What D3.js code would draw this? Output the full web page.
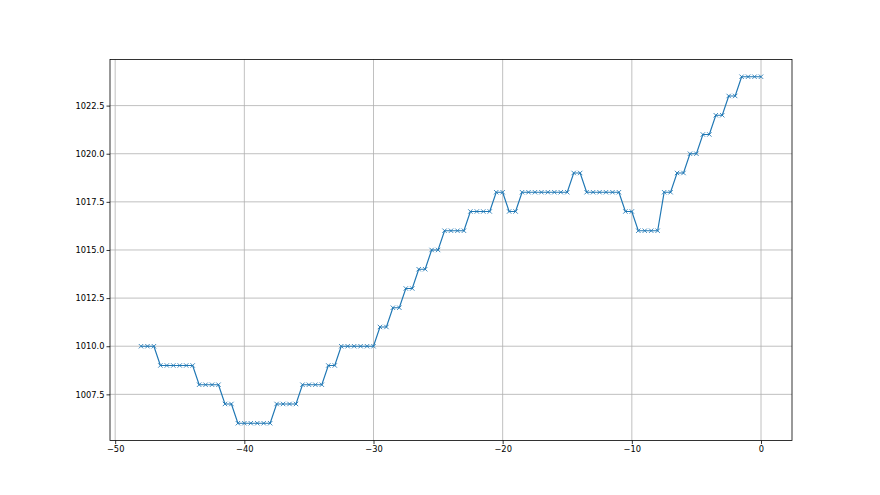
<!DOCTYPE html>
<html><head><meta charset="utf-8">
<script src="https://cdn.jsdelivr.net/npm/d3@7"></script>
<style>body{margin:0;background:#fff;} svg{display:block;}</style>
</head><body>
<svg id="c" width="880" height="495"></svg>
<script>
// Data: x from -48 to 0 every 0.5, pressure values (runs of equal values)
const xStart = -48, xStep = 0.5;
const runValues = [1010,1009,1008,1007,1006,1007,1008,1009,1010,1011,1012,1013,1014,1015,1016,1017,1018,1017,1018,1019,1018,1017,1016,1018,1019,1020,1021,1022,1023,1024];
const runLengths = [3,6,4,2,6,4,4,2,6,2,2,2,2,2,4,4,2,2,8,2,6,2,4,2,2,2,2,2,2,4];
const xTicks = [-50,-40,-30,-20,-10,0];
const yTicks = [1007.5,1010.0,1012.5,1015.0,1017.5,1020.0,1022.5];

const yValues = [];
runValues.forEach((v,i)=>{ for(let k=0;k<runLengths[i];k++) yValues.push(v); });
const data = yValues.map((y,i)=>({x: xStart + i*xStep, y}));

const W=880,H=495, L=110, R=792, T=59.4, B=440.55;
const svg = d3.select('#c');
const xmin=d3.min(data,d=>d.x), xmax=d3.max(data,d=>d.x);
const ymin=d3.min(data,d=>d.y), ymax=d3.max(data,d=>d.y);
const xm=(xmax-xmin)*0.05, ym=(ymax-ymin)*0.05;
const x = d3.scaleLinear().domain([xmin-xm,xmax+xm]).range([L,R]);
const y = d3.scaleLinear().domain([ymin-ym,ymax+ym]).range([B,T]);

// grid
const g = svg.append('g');
g.selectAll('.gx').data(xTicks).join('line')
 .attr('x1',d=>x(d)).attr('x2',d=>x(d)).attr('y1',T).attr('y2',B)
 .attr('stroke','#b0b0b0').attr('stroke-width',0.8);
g.selectAll('.gy').data(yTicks).join('line')
 .attr('x1',L).attr('x2',R).attr('y1',d=>y(d)).attr('y2',d=>y(d))
 .attr('stroke','#b0b0b0').attr('stroke-width',0.8);

// line
svg.append('path').datum(data)
 .attr('fill','none').attr('stroke','#1f77b4').attr('stroke-width',1.2)
 .attr('d', d3.line().x(d=>x(d.x)).y(d=>y(d.y)));

// x markers
const s=2.2;
svg.append('g').selectAll('path').data(data).join('path')
 .attr('d', d=>{const cx=x(d.x), cy=y(d.y); return `M${cx-s},${cy-s}L${cx+s},${cy+s}M${cx-s},${cy+s}L${cx+s},${cy-s}`;})
 .attr('stroke','#1f77b4').attr('stroke-width',1).attr('stroke-opacity',0.85).attr('fill','none');

// axes
const fmtY = d3.format('.1f');
const xa = svg.append('g').attr('transform',`translate(0,${B})`)
 .call(d3.axisBottom(x).tickValues(xTicks).tickSize(3.5).tickPadding(2).tickFormat(d=>d3.format('d')(d).replace('-','\u2212')));
const ya = svg.append('g').attr('transform',`translate(${L},0)`)
 .call(d3.axisLeft(y).tickValues(yTicks).tickSize(3.5).tickPadding(2).tickFormat(fmtY));
[xa,ya].forEach(a=>{
  a.select('.domain').remove();
  a.selectAll('text').attr('font-family','DejaVu Sans').attr('font-size','8.3px').attr('fill','#000');
  a.selectAll('line').attr('stroke','#000').attr('stroke-width',0.8);
});
// frame
svg.append('rect').attr('x',L).attr('y',T).attr('width',R-L).attr('height',B-T)
 .attr('fill','none').attr('stroke','#000').attr('stroke-width',0.8);
</script>
</body></html>
